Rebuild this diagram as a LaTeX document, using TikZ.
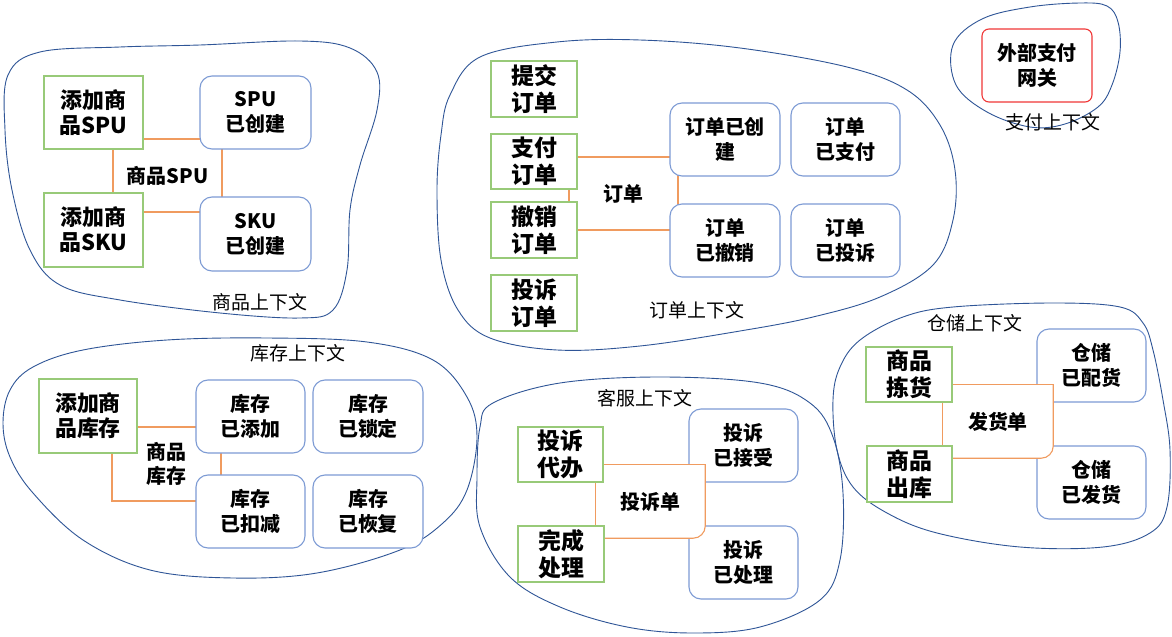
\documentclass[tikz,border=0pt]{standalone}
\usepackage{fontspec}
\setmainfont{Noto Sans CJK SC}
\definecolor{gline}{RGB}{152,202,120}
\definecolor{bline}{RGB}{125,155,212}
\definecolor{blobc}{RGB}{47,85,151}
\definecolor{rline}{RGB}{240,55,55}
\definecolor{oline}{RGB}{240,155,95}
\tikzset{
  gbox/.style={draw=gline, line width=1.1bp, fill=white, align=center, inner sep=0pt,
    font=\bfseries\fontsize{23}{27}\selectfont},
  gboxw/.style={gbox, font=\bfseries\fontsize{22}{25}\selectfont},
  bbox/.style={draw=bline, line width=1.1bp, fill=white, rounded corners=12bp, align=center, inner sep=0pt,
    font=\bfseries\fontsize{20}{25}\selectfont},
  rbox/.style={draw=rline, line width=1.1bp, fill=white, rounded corners=7bp, align=center, inner sep=0pt,
    font=\bfseries\fontsize{20}{25}\selectfont},
  aggbox/.style={draw=oline, line width=1.1bp, fill=white, align=center, inner sep=0pt,
    font=\bfseries\fontsize{20}{23}\selectfont},
  aggfill/.style={fill=white, align=center, inner sep=0pt,
    font=\bfseries\fontsize{20}{23}\selectfont},
  aggline/.style={draw=oline, line width=1.1bp, line cap=rect},
  blob/.style={draw=blobc, line width=0.9bp},
  ctx/.style={font=\fontsize{19}{22}\selectfont, inner sep=0pt},
}
\begin{document}
\begin{tikzpicture}[x=1bp,y=-1bp]
\useasboundingbox[fill=white] (0,0) rectangle (1172,637);

% ---------- blobs ----------
\draw[blob] plot[smooth cycle, tension=0.6] coordinates {
 (8,75) (40,52) (120,47) (200,45) (300,41) (350,48) (377,72) (377,110) (360,165)
 (350,210) (347,270) (333,310) (300,318) (220,313) (120,300) (60,285) (30,250) (12,190) (5,130)};
\draw[blob] plot[smooth cycle, tension=0.6] coordinates {
 (450,95) (480,57) (557,42) (640,40) (740,48) (847,67) (907,90) (940,125) (955,170)
 (953,220) (933,265) (880,297) (813,317) (740,331) (640,346) (557,350) (490,338)
 (458,310) (441,260) (437,190) (441,135)};
\draw[blob] plot[smooth cycle, tension=0.6] coordinates {
 (953,45) (982,19) (1030,7) (1080,3) (1107,6) (1118,22) (1120,52) (1112,85) (1098,107)
 (1065,124) (1030,127) (987,112) (956,85)};
\draw[blob] plot[smooth cycle, tension=0.6] coordinates {
 (10,390) (33,367) (83,350) (167,340) (267,338) (367,342) (433,360) (467,397) (477,437)
 (467,490) (443,523) (400,550) (317,573) (233,578) (150,570) (83,540) (33,493) (10,457) (3,423)};
\draw[blob] plot[smooth cycle, tension=0.6] coordinates {
 (493,403) (560,383) (660,377) (760,383) (810,403) (833,437) (843,493) (840,560) (820,600)
 (760,627) (693,633) (627,627) (560,607) (510,577) (480,527) (477,477) (480,427)};
\draw[blob] plot[smooth cycle, tension=0.6] coordinates {
 (903,317) (953,307) (1053,303) (1120,307) (1143,323) (1153,350) (1163,400) (1170,450)
 (1167,507) (1150,533) (1103,547) (1020,547) (937,533) (887,513) (853,487) (837,450)
 (833,400) (840,367) (860,340)};

% ---------- 商品上下文 ----------
\node[aggbox, minimum width=109bp, minimum height=73bp] (aspu) at (167.5,175.5) {商品SPU};
\node[bbox, minimum width=111bp, minimum height=73bp] (spuok) at (255.5,112.5) {SPU\\已创建};
\node[bbox, minimum width=111bp, minimum height=74bp] (skuok) at (255.5,234) {SKU\\已创建};
\node[gboxw, minimum width=99bp, minimum height=73bp] (addspu) at (93.5,112.5) {添加商\\品SPU};
\node[gboxw, minimum width=99bp, minimum height=74bp] (addsku) at (93.5,230) {添加商\\品SKU};
\node[ctx] (ctx1) at (260,302) {商品上下文};

% ---------- 订单上下文 ----------
\node[aggbox, minimum width=109bp, minimum height=73bp] (aord) at (623.5,193.5) {订单};
\node[bbox, minimum width=110bp, minimum height=73bp] (oc) at (725,139.5) {订单已创\\建};
\node[bbox, minimum width=109bp, minimum height=73bp] (op) at (845.5,139.5) {订单\\已支付};
\node[bbox, minimum width=110bp, minimum height=73bp] (ox) at (725,240.5) {订单\\已撤销};
\node[bbox, minimum width=109bp, minimum height=73bp] (ot) at (845.5,240.5) {订单\\已投诉};
\node[gbox, minimum width=86bp, minimum height=56bp] (sub) at (534,89) {提交\\订单};
\node[gbox, minimum width=86bp, minimum height=55bp] (pay) at (534,161.5) {支付\\订单};
\node[gbox, minimum width=86bp, minimum height=56bp] (can) at (534,230) {撤销\\订单};
\node[gbox, minimum width=86bp, minimum height=56bp] (cmp) at (534,303) {投诉\\订单};
\node[ctx] (ctx2) at (697,310) {订单上下文};

% ---------- 支付上下文 ----------
\node[rbox, minimum width=110bp, minimum height=73bp] (gw) at (1037,65.5) {外部支付\\网关};
\node[ctx] (ctx3) at (1053,122) {支付上下文};

% ---------- 库存上下文 ----------
\node[aggbox, minimum width=109bp, minimum height=74bp, font=\bfseries\fontsize{20}{24}\selectfont] (ainv) at (166.5,464) {商品\\库存};
\node[bbox, minimum width=109bp, minimum height=73bp] (ia) at (250.5,416.5) {库存\\已添加};
\node[bbox, minimum width=110bp, minimum height=73bp] (il) at (368,416.5) {库存\\已锁定};
\node[bbox, minimum width=109bp, minimum height=73bp] (id) at (250.5,511.5) {库存\\已扣减};
\node[bbox, minimum width=110bp, minimum height=73bp] (ir) at (368,511.5) {库存\\已恢复};
\node[gboxw, minimum width=98bp, minimum height=74bp] (addinv) at (88,416) {添加商\\品库存};
\node[ctx] (ctx4) at (298,353) {库存上下文};

% ---------- 客服上下文 ----------
\node[bbox, minimum width=109bp, minimum height=73bp] (ca) at (743.5,445.5) {投诉\\已接受};
\node[bbox, minimum width=109bp, minimum height=73bp] (cd) at (743.5,562.5) {投诉\\已处理};
\node[aggfill, minimum width=109bp, minimum height=73bp] (acmp) at (650.5,501.5) {投诉单};
\draw[aggline, rounded corners=12bp] (acmp.north east) -- (acmp.south east) -- (acmp.south west);
\draw[aggline] (acmp.south west) -- (acmp.north west) -- (acmp.north east);
\node[gbox, minimum width=85bp, minimum height=55bp] (agent) at (560.5,454.5) {投诉\\代办};
\node[gbox, minimum width=86bp, minimum height=56bp] (done) at (561,554) {完成\\处理};
\node[ctx] (ctx5) at (645,398) {客服上下文};

% ---------- 仓储上下文 ----------
\node[bbox, minimum width=109bp, minimum height=73bp] (wa) at (1091.5,365.5) {仓储\\已配货};
\node[bbox, minimum width=109bp, minimum height=73bp] (ws) at (1091.5,482.5) {仓储\\已发货};
\node[aggfill, minimum width=110bp, minimum height=73bp] (aship) at (998,421.5) {发货单};
\draw[aggline, rounded corners=12bp] (aship.north east) -- (aship.south east) -- (aship.south west);
\draw[aggline] (aship.south west) -- (aship.north west) -- (aship.north east);
\node[gbox, minimum width=86bp, minimum height=55bp] (pick) at (909,374.5) {商品\\拣货};
\node[gbox, minimum width=85bp, minimum height=56bp] (out) at (909.5,474) {商品\\出库};
\node[ctx] (ctx6) at (975,323) {仓储上下文};
\end{tikzpicture}
\end{document}
